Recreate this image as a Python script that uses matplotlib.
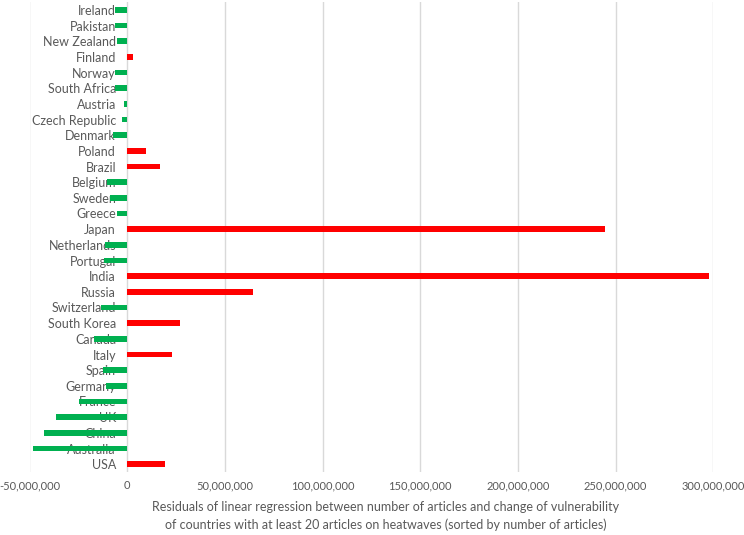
import matplotlib
matplotlib.use("Agg")
import matplotlib.pyplot as plt
from matplotlib.ticker import FuncFormatter

# Categories from bottom (USA) to top (Ireland)
countries = ["USA", "Australia", "China", "UK", "France", "Germany", "Spain", "Italy",
             "Canada", "South Korea", "Switzerland", "Russia", "India", "Portugal",
             "Netherlands", "Japan", "Greece", "Sweden", "Belgium", "Brazil", "Poland",
             "Denmark", "Czech Republic", "Austria", "South Africa", "Norway", "Finland",
             "New Zealand", "Pakistan", "Ireland"]
residuals = [19.5e6, -48.3e6, -42.6e6, -36.6e6, -24.8e6, -11.0e6, -12.4e6, 23.0e6,
             -17.0e6, 27.0e6, -13.2e6, 64.5e6, 298.0e6, -12.0e6,
             -11.5e6, 244.8e6, -5.0e6, -8.6e6, -10.3e6, 16.6e6, 9.8e6,
             -7.3e6, -2.5e6, -1.8e6, -6.0e6, -6.4e6, 3.2e6,
             -5.2e6, -6.4e6, -6.4e6]
x_ticks = [-50e6, 0, 50e6, 100e6, 150e6, 200e6, 250e6, 300e6]
xlabel = ("Residuals of linear regression between number of articles and change of vulnerability\n"
          "of countries with at least 20 articles on heatwaves (sorted by number of articles)")

plt.rcParams['font.family'] = ['Lato', 'DejaVu Sans']
text_color = "#595959"

fig = plt.figure(figsize=(7.44, 5.35), dpi=100)
ax = fig.add_axes([29.5/744, 63/535, (713.3-29.5)/744, (533-63)/535])

colors = ["#00B050" if v < 0 else "#FF0000" for v in residuals]
ypos = list(range(len(countries)))
ax.barh(ypos, residuals, height=0.38, color=colors, zorder=3)

ax.set_xlim(-50e6, 300e6)
ax.set_ylim(-0.5, len(countries) - 0.5)
ax.set_xticks(x_ticks)
ax.xaxis.set_major_formatter(FuncFormatter(lambda v, p: f"{int(round(v)):,}"))
ax.grid(axis='x', color="#D9D9D9", linewidth=1, zorder=0)
ax.set_axisbelow(True)

ax.set_yticks(ypos)
ax.set_yticklabels(countries)
ax.spines['left'].set_position(('data', 0))
for s in ['left', 'right', 'top', 'bottom']:
    ax.spines[s].set_visible(False)
ax.tick_params(axis='y', length=0, pad=8, labelsize=9, labelcolor=text_color)
ax.tick_params(axis='x', length=0, pad=6, labelsize=8, labelcolor=text_color)
for lbl in ax.get_yticklabels():
    lbl.set_zorder(4)

fig.text(386/744, 1 - 516/535, xlabel, ha='center', va='center', fontsize=9,
         color=text_color, linespacing=1.55)

fig.savefig("out.png", dpi=100)
